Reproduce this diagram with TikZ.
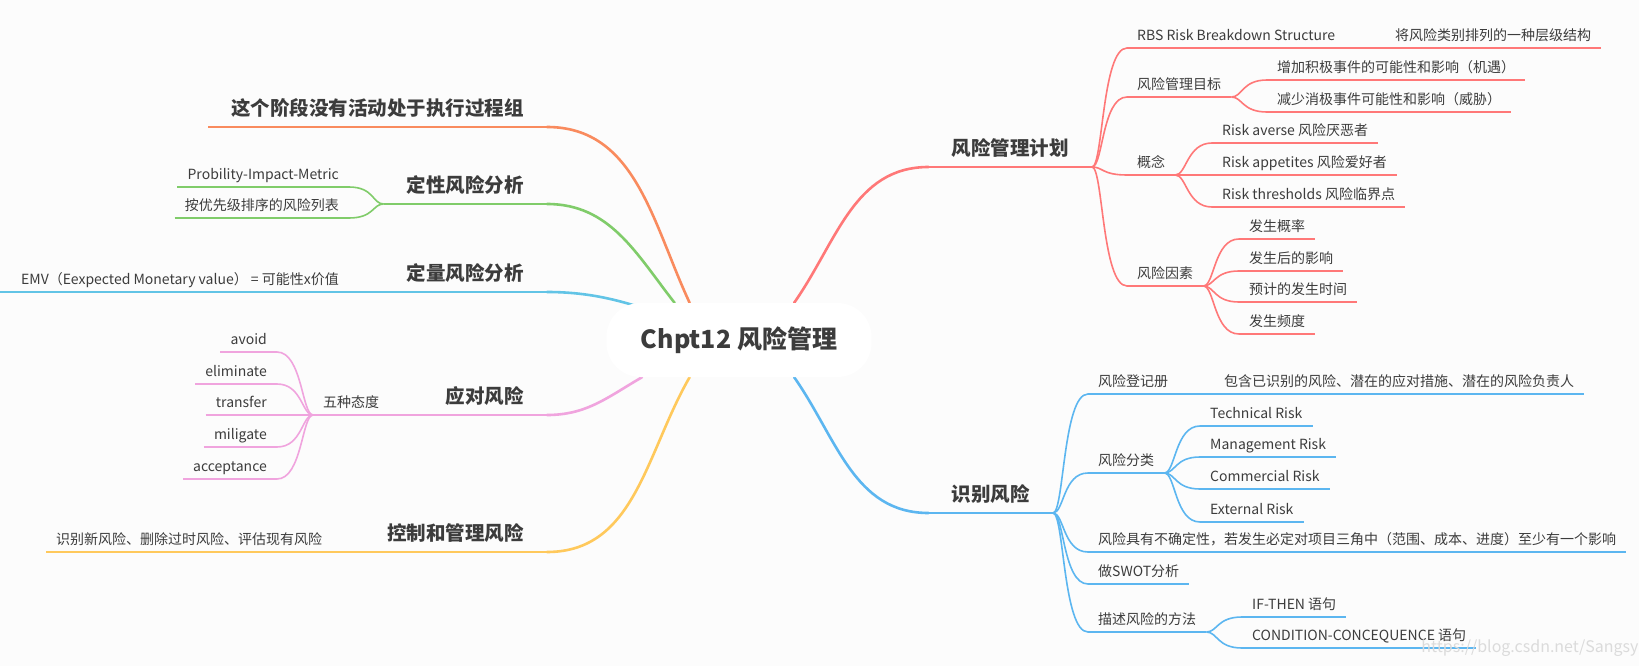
\documentclass[tikz,border=0pt]{standalone}
\usepackage{fontspec}
\setmainfont{Noto Sans CJK SC}
\usepackage{xcolor}
\usetikzlibrary{calc, positioning, backgrounds}

\definecolor{paper}{HTML}{FCFCFC}
\definecolor{txt}{HTML}{3C3C3C}
\definecolor{cplan}{HTML}{FF7878}
\definecolor{cident}{HTML}{5CB6F0}
\definecolor{cexec}{HTML}{F98B5E}
\definecolor{cqual}{HTML}{80CC6A}
\definecolor{cquant}{HTML}{62C4E6}
\definecolor{cresp}{HTML}{F0A4DE}
\definecolor{cctrl}{HTML}{FFC95C}

\begin{document}
\begin{tikzpicture}[x=1pt, y=-1pt,
    hub/.style={fill=white, rounded corners=34pt, minimum width=265pt, minimum height=74pt,
        text=txt, font=\fontsize{25}{30}\selectfont\bfseries},
    topic/.style={text=txt, font=\fontsize{19.5}{23}\selectfont\bfseries,
        text height=15pt, text depth=4.5pt, inner xsep=23pt, inner ysep=6.5pt},
    leaf/.style={text=txt, font=\fontsize{14}{17}\selectfont,
        text height=11pt, text depth=3pt, inner xsep=10pt, inner ysep=4.5pt},
    limb/.style={line width=2.6pt, line cap=round},
    twig/.style={out=0, in=180, out distance=11pt, in distance=25pt},
    twigl/.style={out=180, in=0, out distance=11pt, in distance=25pt}
]
    \useasboundingbox (0,0) rectangle (1639,666);

    % 中心主题
    \node[hub] (hub) at (739,340) {Chpt12 风险管理};

    % 右上: 风险管理计划
    \node[topic, anchor=south east] (plan) at (1092,167) {风险管理计划};
    \node[leaf, anchor=south west] (rbs) at (1127,48) {RBS Risk Breakdown Structure};
    \node[leaf, anchor=south west] (rbsnote) at (1385,48) {将风险类别排列的一种层级结构};
    \node[leaf, anchor=south west] (goal) at (1127,97) {风险管理目标};
    \node[leaf, anchor=south west] (goal1) at (1267,80) {增加积极事件的可能性和影响（机遇）};
    \node[leaf, anchor=south west] (goal2) at (1267,112) {减少消极事件可能性和影响（威胁）};
    \node[leaf, anchor=south west] (concept) at (1127,175) {概念};
    \foreach \name/\word/\y in {averse/Risk averse 风险厌恶者/143,
            appetite/Risk appetites 风险爱好者/175, threshold/Risk thresholds 风险临界点/207} {
        \node[leaf, anchor=south west] (\name) at (1212,\y) {\word};
    }
    \node[leaf, anchor=south west] (factor) at (1127,286) {风险因素};
    \foreach \name/\word/\y in {prob/发生概率/239, impact/发生后的影响/271,
            timing/预计的发生时间/302, freq/发生频度/334} {
        \node[leaf, anchor=south west] (\name) at (1239,\y) {\word};
    }

    % 右下: 识别风险
    \node[topic, anchor=south east] (ident) at (1053,513) {识别风险};
    \node[leaf, anchor=south west] (register) at (1088,394) {风险登记册};
    \node[leaf, anchor=south west] (regnote) at (1214,394) {包含已识别的风险、潜在的应对措施、潜在的风险负责人};
    \node[leaf, anchor=south west] (category) at (1088,473) {风险分类};
    \foreach \name/\word/\y in {tech/Technical Risk/426, mgmt/Management Risk/457,
            comm/Commercial Risk/489, ext/External Risk/522} {
        \node[leaf, anchor=south west] (\name) at (1200,\y) {\word};
    }
    \node[leaf, anchor=south west] (uncertain) at (1088,552) {风险具有不确定性，若发生必定对项目三角中（范围、成本、进度）至少有一个影响};
    \node[leaf, anchor=south west] (swot) at (1088,584) {做SWOT分析};
    \node[leaf, anchor=south west] (describe) at (1088,632) {描述风险的方法};
    \node[leaf, anchor=south west] (ifthen) at (1242,617) {IF-THEN 语句};
    \node[leaf, anchor=south west] (condition) at (1242,648) {CONDITION-CONCEQUENCE 语句};

    % 左侧
    \node[topic, anchor=south east] (exec) at (547,127) {这个阶段没有活动处于执行过程组};
    \node[topic, anchor=south east] (qual) at (547,204) {定性风险分析};
    \node[leaf, anchor=south east] (pim) at (349,187) {Probility-Impact-Metric};
    \node[leaf, anchor=south east] (ranked) at (349,218) {按优先级排序的风险列表};
    \node[topic, anchor=south east] (quant) at (547,292) {定量风险分析};
    \node[leaf, anchor=south east] (emv) at (349,292) {EMV（Eexpected Monetary value） = 可能性x价值};
    \coordinate (emvtail) at (0,292);
    \node[topic, anchor=south east] (resp) at (547,415) {应对风险};
    \node[leaf, anchor=south west] (five) at (313,415) {五种态度};
    \foreach \name/\y in {avoid/352, eliminate/384, transfer/415, miligate/447, acceptance/479} {
        \node[leaf, anchor=south east] (\name) at (277,\y) {\name};
    }
    \node[topic, anchor=south east] (ctrl) at (547,552) {控制和管理风险};
    \node[leaf, anchor=south west] (newrisk) at (46,552) {识别新风险、删除过时风险、评估现有风险};

    % 水印
    \node[font=\fontsize{16}{19}\selectfont, text=black!14] (mark) at (1530,648) {https://blog.csdn.net/Sangsy};

    \begin{scope}[on background layer]
        \fill[paper] (0,0) rectangle (1639,666);
        % 主干
        \draw[limb, cplan] (hub.34) to[out=55, in=180] (plan.south west);
        \draw[limb, cident] (hub.-34) to[out=-55, in=180] (ident.south west);
        \draw[limb, cexec] (hub.143) to[out=115, in=0] (exec.south east);
        \draw[limb, cqual] (hub.150) to[out=128, in=0] (qual.south east);
        \draw[limb, cquant] (hub.center) to[out=165, in=0] (quant.south east);
        \draw[limb, cresp] (hub.201) to[out=210, in=0] (resp.south east);
        \draw[limb, cctrl] (hub.217) to[out=240, in=0] (ctrl.south east);
        \foreach \n/\c in {plan/cplan, ident/cident, exec/cexec, qual/cqual,
                quant/cquant, resp/cresp, ctrl/cctrl} {
            \draw[\c, line width=2.2pt] (\n.south west) -- (\n.south east);
        }

        % 风险管理计划
        \begin{scope}[cplan, line width=1.6pt]
            \foreach \n in {rbs, rbsnote, goal, goal1, goal2, concept, averse, appetite,
                    threshold, factor, prob, impact, timing, freq} {
                \draw (\n.south west) -- (\n.south east);
            }
            \foreach \n in {rbs, goal, concept, factor} {
                \draw (plan.south east) to[twig] (\n.south west);
            }
            \draw (rbs.south east) -- (rbsnote.south west);
            \foreach \n in {goal1, goal2} {
                \draw (goal.south east) to[twig] (\n.south west);
            }
            \foreach \n in {averse, appetite, threshold} {
                \draw (concept.south east) to[twig] (\n.south west);
            }
            \foreach \n in {prob, impact, timing, freq} {
                \draw (factor.south east) to[twig] (\n.south west);
            }
        \end{scope}

        % 识别风险
        \begin{scope}[cident, line width=1.6pt]
            \foreach \n in {register, regnote, category, tech, mgmt, comm, ext,
                    uncertain, swot, describe, ifthen, condition} {
                \draw (\n.south west) -- (\n.south east);
            }
            \foreach \n in {register, category, uncertain, swot, describe} {
                \draw (ident.south east) to[twig] (\n.south west);
            }
            \draw (register.south east) -- (regnote.south west);
            \foreach \n in {tech, mgmt, comm, ext} {
                \draw (category.south east) to[twig] (\n.south west);
            }
            \foreach \n in {ifthen, condition} {
                \draw (describe.south east) to[twig] (\n.south west);
            }
        \end{scope}

        % 左侧分支
        \begin{scope}[cqual, line width=1.6pt]
            \foreach \n in {pim, ranked} {
                \draw (\n.south west) -- (\n.south east);
                \draw (qual.south west) to[twigl] (\n.south east);
            }
        \end{scope}
        \draw[cquant, line width=1.6pt] (quant.south west) -- (emv.south east) -- (emvtail);
        \begin{scope}[cresp, line width=1.6pt]
            \draw (resp.south west) -- (five.south east);
            \draw (five.south west) -- (five.south east);
            \foreach \n in {avoid, eliminate, transfer, miligate, acceptance} {
                \draw (\n.south west) -- (\n.south east);
                \draw (five.south west) to[twigl] (\n.south east);
            }
        \end{scope}
        \draw[cctrl, line width=1.6pt] (newrisk.south west) -- (newrisk.south east) -- (ctrl.south west);
    \end{scope}
\end{tikzpicture}
\end{document}
